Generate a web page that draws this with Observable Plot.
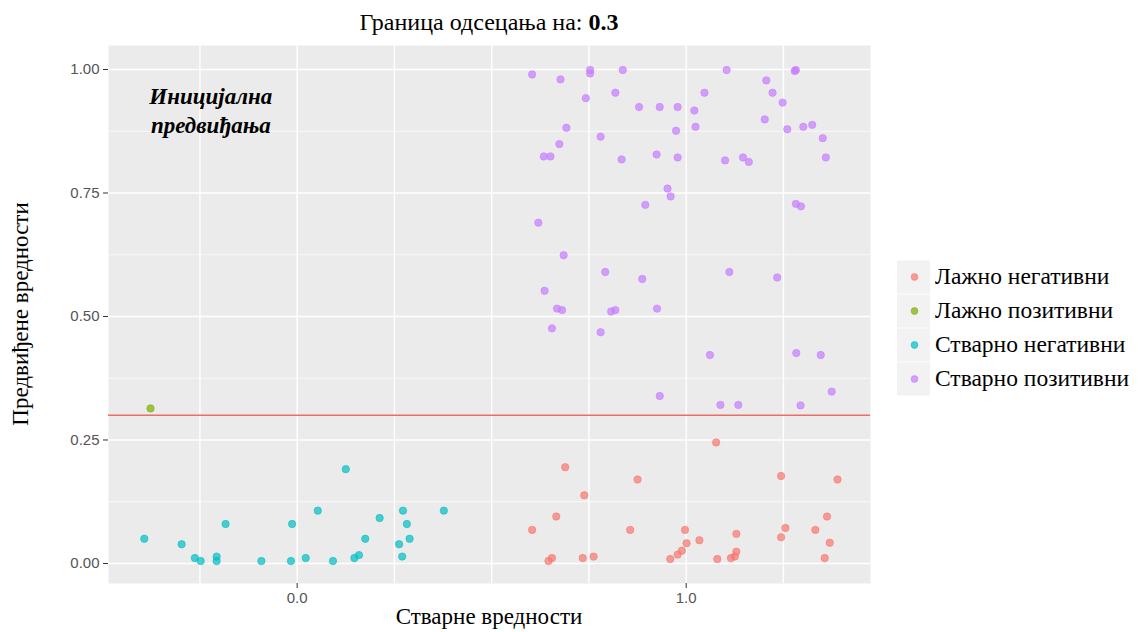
<!DOCTYPE html>
<html>
<head>
<meta charset="utf-8">
<script src="https://cdn.jsdelivr.net/npm/d3@7"></script>
<script src="https://cdn.jsdelivr.net/npm/@observablehq/plot@0.6"></script>
<style>
  html, body { margin: 0; padding: 0; background: #ffffff; }
  #wrap { position: relative; width: 1138px; height: 632px; }
</style>
</head>
<body>
<div id="wrap"></div>
<script>
// ---- data ----
const categories = ["Лажно негативни", "Лажно позитивни", "Стварно негативни", "Стварно позитивни"];
const colors = ["#F8766D", "#7CAE00", "#00BFC4", "#C77CFF"];

const fnX = [1.077,0.689,0.875,1.244,1.389,0.738,0.666,1.362,0.604,0.856,0.997,1.129,1.255,1.244,1.332,1.034,1.001,1.369,0.989,0.978,0.959,0.646,0.655,0.734,0.762,1.080,1.115,1.125,1.129,1.356];
const fnY = [0.245,0.195,0.170,0.177,0.170,0.138,0.095,0.095,0.068,0.068,0.068,0.060,0.072,0.053,0.068,0.047,0.041,0.042,0.026,0.018,0.009,0.005,0.011,0.011,0.014,0.009,0.011,0.014,0.024,0.011];

const fpX = [-0.377];
const fpY = [0.314];

const tnX = [-0.393,-0.297,-0.263,-0.248,-0.207,-0.207,-0.184,-0.092,-0.016,-0.013,0.022,0.053,0.092,0.125,0.147,0.159,0.175,0.212,0.262,0.270,0.272,0.282,0.289,0.377];
const tnY = [0.050,0.039,0.011,0.005,0.014,0.005,0.080,0.005,0.005,0.080,0.011,0.107,0.005,0.191,0.011,0.017,0.050,0.092,0.039,0.014,0.107,0.080,0.050,0.107];

const tpX = [0.604,0.677,0.753,0.753,0.837,1.104,1.206,1.279,1.282,0.742,0.818,1.047,1.222,0.879,0.932,0.978,1.021,1.248,1.202,0.692,0.974,1.024,1.260,1.301,1.324,1.351,0.780,0.674,0.634,0.651,0.834,0.924,0.978,1.100,1.146,1.161,1.359,0.952,0.960,0.895,1.282,1.295,0.620,0.685,0.792,0.887,1.111,1.234,0.636,0.668,0.681,0.807,0.818,0.925,0.655,0.780,1.061,1.283,1.346,0.932,1.088,1.134,1.294,1.374];
const tpY = [0.990,0.980,0.999,0.992,0.999,0.999,0.978,0.997,0.999,0.942,0.953,0.953,0.953,0.924,0.924,0.924,0.917,0.933,0.899,0.882,0.876,0.884,0.879,0.884,0.888,0.861,0.864,0.849,0.824,0.824,0.818,0.828,0.822,0.816,0.822,0.813,0.822,0.759,0.743,0.726,0.728,0.723,0.690,0.624,0.590,0.576,0.590,0.579,0.552,0.516,0.513,0.510,0.513,0.516,0.476,0.468,0.422,0.426,0.422,0.339,0.321,0.321,0.320,0.348];

const cutoff = 0.3;
const yTicks = [0, 0.25, 0.5, 0.75, 1];
const yTickLabels = ["0.00", "0.25", "0.50", "0.75", "1.00"];
const yMinor = [0.125, 0.375, 0.625, 0.875];
const xTicks = [0, 1];
const xTickLabels = ["0.0", "1.0"];
const xGrid = [-0.25, 0, 0.25, 0.5, 0.75, 1, 1.25];

const titleText = "Граница одсецања на: ";
const titleValue = "0.3";
const xTitle = "Стварне вредности";
const yTitle = "Предвиђене вредности";
const annotation = "Иницијална\nпредвиђања";

// ---- build table ----
const groupsX = [fnX, fpX, tnX, tpX];
const groupsY = [fnY, fpY, tnY, tpY];
const points = [];
groupsX.forEach((xs, g) => xs.forEach((x, i) => points.push({x, y: groupsY[g][i], cat: categories[g]})));

const serif = "'Liberation Serif', 'Times New Roman', serif";

const chart = Plot.plot({
  width: 1138,
  height: 632,
  marginLeft: 108,
  marginRight: 268,
  marginTop: 45,
  marginBottom: 49,
  style: {background: "transparent", fontFamily: "'Liberation Sans', Arial, sans-serif", overflow: "visible"},
  x: {domain: [-0.485, 1.4738]},
  y: {domain: [-0.0405, 1.0486]},
  color: {domain: categories, range: colors},
  marks: [
    Plot.frame({fill: "#EBEBEB", stroke: null}),
    Plot.gridY(yMinor, {stroke: "#ffffff", strokeOpacity: 1, strokeWidth: 0.7}),
    Plot.gridY(yTicks, {stroke: "#ffffff", strokeOpacity: 1, strokeWidth: 1.4}),
    Plot.gridX(xGrid, {stroke: "#ffffff", strokeOpacity: 1, strokeWidth: 1.4}),
    Plot.ruleY([cutoff], {stroke: "#EC6F67", strokeWidth: 1.4}),
    Plot.dot(points, {x: "x", y: "y", fill: "cat", stroke: "cat", r: 3.7, fillOpacity: 0.7, strokeOpacity: 0.7, strokeWidth: 0.8}),
    Plot.text([annotation], {x: -0.222, y: 0.92, text: d => d, fontFamily: serif, fontWeight: "bold", fontStyle: "italic", fontSize: 23, lineHeight: 1.27, fill: "#000"}),
    Plot.axisY(yTicks, {tickFormat: d => yTickLabels[yTicks.indexOf(d)], tickSize: 5, tickPadding: 4, fontSize: 15, stroke: "#333333", fill: "#555555", label: null}),
    Plot.axisX(xTicks, {tickFormat: d => xTickLabels[xTicks.indexOf(d)], tickSize: 5, tickPadding: 4, fontSize: 15, stroke: "#333333", fill: "#555555", label: null})
  ]
});

document.getElementById("wrap").appendChild(chart);

// ---- titles and legend as real SVG text ----
const svg = d3.select(chart);
const fx = 108, fr = 870, ft = 45, fb = 583;
const cx = (fx + fr) / 2, cy = (ft + fb) / 2;

const t = svg.append("text")
  .attr("x", cx).attr("y", 30)
  .attr("text-anchor", "middle")
  .style("font-family", serif).style("font-size", "24px").attr("fill", "#000");
t.append("tspan").text(titleText);
t.append("tspan").attr("font-weight", "bold").text(titleValue);

svg.append("text")
  .attr("x", cx).attr("y", 624)
  .attr("text-anchor", "middle")
  .style("font-family", serif).style("font-size", "23px").attr("fill", "#000")
  .text(xTitle);

svg.append("text")
  .attr("transform", `translate(28,${cy}) rotate(-90)`)
  .attr("text-anchor", "middle")
  .style("font-family", serif).style("font-size", "23px").attr("fill", "#000")
  .text(yTitle);

const rowY = [277, 311, 345, 379];
const lg = svg.append("g").attr("text-anchor", "start");
categories.forEach((c, i) => {
  lg.append("rect").attr("x", 897).attr("y", rowY[i] - 16.5).attr("width", 33).attr("height", 33).attr("fill", "#F2F2F2");
  lg.append("circle").attr("cx", 914.5).attr("cy", rowY[i]).attr("r", 3.4)
    .attr("fill", colors[i]).attr("fill-opacity", 0.7).attr("stroke", colors[i]).attr("stroke-opacity", 0.7).attr("stroke-width", 0.8);
  lg.append("text").attr("x", 935).attr("y", rowY[i] + 7)
    .attr("text-anchor", "start")
    .style("font-family", serif).style("font-size", "23.5px").attr("fill", "#000")
    .text(c);
});
</script>
</body>
</html>
